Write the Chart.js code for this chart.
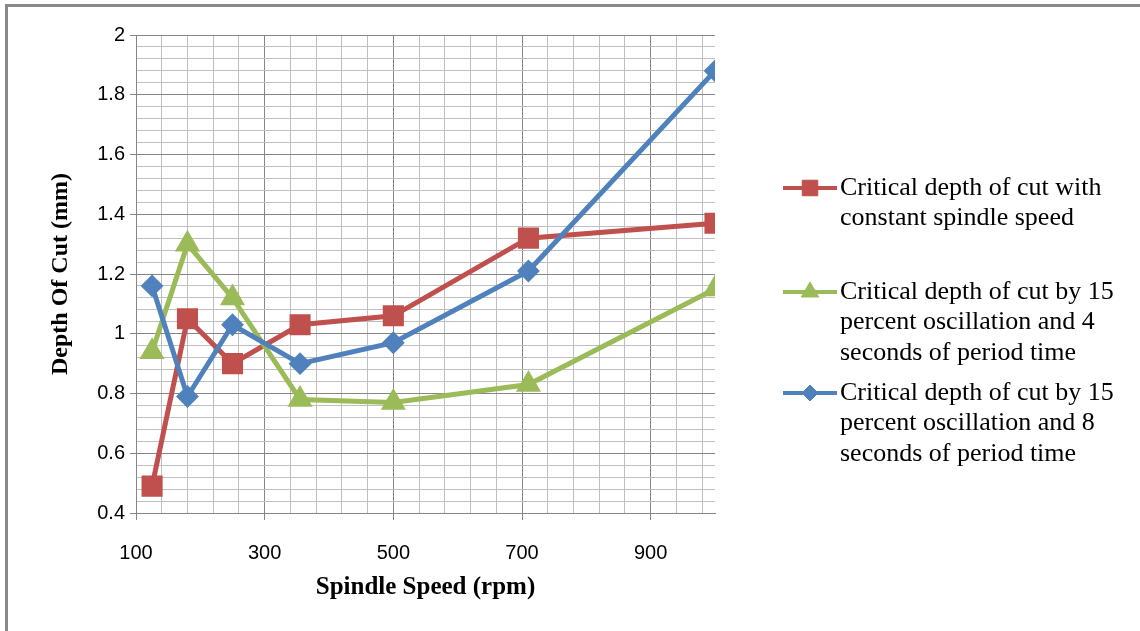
<!DOCTYPE html>
<html>
<head>
<meta charset="utf-8">
<script src="https://cdn.jsdelivr.net/npm/chart.js@4.4.1/dist/chart.umd.min.js"></script>
<style>
  html, body { margin: 0; padding: 0; background: #fff; overflow: hidden; }
  #wrap { position: relative; width: 1140px; height: 631px; }
  #frame { position: absolute; left: 5px; top: 4px; width: 2000px; height: 2000px;
           border-top: 3px solid #898989; border-left: 3px solid #898989; box-sizing: border-box; pointer-events: none; }
  canvas { position: absolute; left: 0; top: 0; }
</style>
</head>
<body>
<div id="wrap">
  <canvas id="c" width="1140" height="631"></canvas>
  <div id="frame"></div>
</div>
<script>
// ---- data ----
const speeds = [125, 180, 250, 355, 500, 710, 1000];
const constantSpeed = [0.49, 1.05, 0.90, 1.03, 1.06, 1.32, 1.37];
const osc4s = [0.94, 1.30, 1.12, 0.78, 0.77, 0.83, 1.15];
const osc8s = [1.16, 0.79, 1.03, 0.90, 0.97, 1.21, 1.88];

const seriesLabels = [
  ["Critical depth of cut with", "constant spindle speed"],
  ["Critical depth of cut by 15", "percent oscillation and 4", "seconds of period time"],
  ["Critical depth of cut by 15", "percent oscillation and 8", "seconds of period time"]
];
const xTickLabels = [100, 300, 500, 700, 900];
const yTickLabels = [0.4, 0.6, 0.8, 1, 1.2, 1.4, 1.6, 1.8, 2];
const xTitle = "Spindle Speed (rpm)";
const yTitle = "Depth Of Cut (mm)";

// ---- axis settings ----
const X_MIN = 100, X_MAX = 1000, X_MINOR = 40;
const Y_MIN = 0.4, Y_MAX = 2.0, Y_MINOR = 0.04;

const MAJOR = '#868686', MINOR = '#BFBFBF';
const RED = '#C0504D', GREEN = '#9BBB59', BLUE = '#4F81BD';

function xIsMajor(v) { return xTickLabels.some(t => Math.abs(t - v) < 1e-6); }
function yIsMajor(v) { return yTickLabels.some(t => Math.abs(t - v) < 1e-6); }

function pts(ys) { return speeds.map((x, i) => ({ x: x, y: ys[i] })); }

const legendPlugin = {
  id: 'sideLegend',
  afterDraw(chart) {
    const ctx = chart.ctx;
    const itemY = [188, 292, 393];
    const lineH = 30.5;
    const x0 = 783, x1 = 837, tx = 840;
    ctx.save();
    chart.data.datasets.forEach((ds, i) => {
      const y = itemY[i];
      ctx.strokeStyle = ds.borderColor;
      ctx.lineWidth = 4;
      ctx.beginPath();
      ctx.moveTo(x0, y); ctx.lineTo(x1, y); ctx.stroke();
      ctx.fillStyle = ds.pointBackgroundColor;
      ctx.strokeStyle = ds.pointBorderColor;
      ctx.lineWidth = 1;
      Chart.helpers.drawPoint(ctx, { pointStyle: ds.pointStyle, radius: ds.legendRadius, borderWidth: 1, rotation: 0 }, (x0 + x1) / 2, y);
      ctx.fillStyle = '#000';
      ctx.font = '26px "Liberation Serif", "Times New Roman", serif';
      ctx.textAlign = 'left';
      ctx.textBaseline = 'middle';
      seriesLabels[i].forEach((t, k) => ctx.fillText(t, tx, y + k * lineH));
    });
    ctx.restore();
  }
};

new Chart(document.getElementById('c'), {
  type: 'line',
  data: {
    datasets: [
      { label: seriesLabels[0].join(' '), data: pts(constantSpeed), borderColor: RED, backgroundColor: RED,
        pointBackgroundColor: RED, pointBorderColor: RED, pointStyle: 'rect', pointRadius: 13.5, pointBorderWidth: 2,
        borderWidth: 5, order: 3, legendRadius: 11 },
      { label: seriesLabels[1].join(' '), data: pts(osc4s), borderColor: GREEN, backgroundColor: GREEN,
        pointBackgroundColor: GREEN, pointBorderColor: GREEN, pointStyle: 'triangle', pointRadius: 12.5, pointBorderWidth: 2,
        borderWidth: 5, order: 2, legendRadius: 10 },
      { label: seriesLabels[2].join(' '), data: pts(osc8s), borderColor: BLUE, backgroundColor: BLUE,
        pointBackgroundColor: BLUE, pointBorderColor: BLUE, pointStyle: 'rectRot', pointRadius: 10, pointBorderWidth: 2,
        borderWidth: 5, order: 1, legendRadius: 8 }
    ]
  },
  options: {
    responsive: false,
    animation: false,
    devicePixelRatio: 1,
    layout: { padding: { left: 0, top: 35, right: 425, bottom: 0 } },
    plugins: { legend: { display: false }, tooltip: { enabled: false } },
    elements: { line: { tension: 0 } },
    scales: {
      x: {
        type: 'linear', min: X_MIN, max: X_MAX,
        afterBuildTicks(scale) {
          const t = [];
          for (let v = X_MIN; v < X_MAX - 1e-6; v += X_MINOR) t.push({ value: Math.round(v) });
          scale.ticks = t;
        },
        afterFit(scale) { scale.height = 118; },
        ticks: {
          autoSkip: false, maxRotation: 0, padding: 21, color: '#000',
          font: { family: '"Liberation Sans", Arial, sans-serif', size: 20 },
          callback: (v) => xIsMajor(v) ? String(v) : ''
        },
        grid: {
          color: (c) => (c.tick && xIsMajor(c.tick.value)) ? MAJOR : MINOR,
          tickColor: (c) => (c.tick && xIsMajor(c.tick.value)) ? MAJOR : 'rgba(0,0,0,0)',
          tickLength: 7, lineWidth: 1, drawTicks: true
        },
        border: { color: MAJOR, width: 1 },
        title: { display: true, text: xTitle, color: '#000',
                 font: { family: '"Liberation Serif", "Times New Roman", serif', size: 25, weight: 'bold' },
                 padding: { top: 0, bottom: 28 } }
      },
      y: {
        type: 'linear', min: Y_MIN, max: Y_MAX,
        afterBuildTicks(scale) {
          const t = [];
          for (let i = 0; i <= Math.round((Y_MAX - Y_MIN) / Y_MINOR); i++) t.push({ value: Math.round((Y_MIN + i * Y_MINOR) * 100) / 100 });
          scale.ticks = t;
        },
        afterFit(scale) { scale.width = 136; },
        ticks: {
          autoSkip: false, padding: 5, color: '#000',
          font: { family: '"Liberation Sans", Arial, sans-serif', size: 20 },
          callback: (v) => yIsMajor(v) ? String(Math.round(v * 10) / 10) : ''
        },
        grid: {
          color: (c) => (c.tick && yIsMajor(c.tick.value)) ? MAJOR : MINOR,
          tickColor: (c) => (c.tick && yIsMajor(c.tick.value)) ? MAJOR : 'rgba(0,0,0,0)',
          tickLength: 6, lineWidth: 1, drawTicks: true
        },
        border: { color: MAJOR, width: 1 },
        title: { display: true, text: yTitle, color: '#000',
                 font: { family: '"Liberation Serif", "Times New Roman", serif', size: 24, weight: 'bold' },
                 padding: { top: 46, bottom: 0 } }
      }
    }
  },
  plugins: [legendPlugin]
});
</script>
</body>
</html>
